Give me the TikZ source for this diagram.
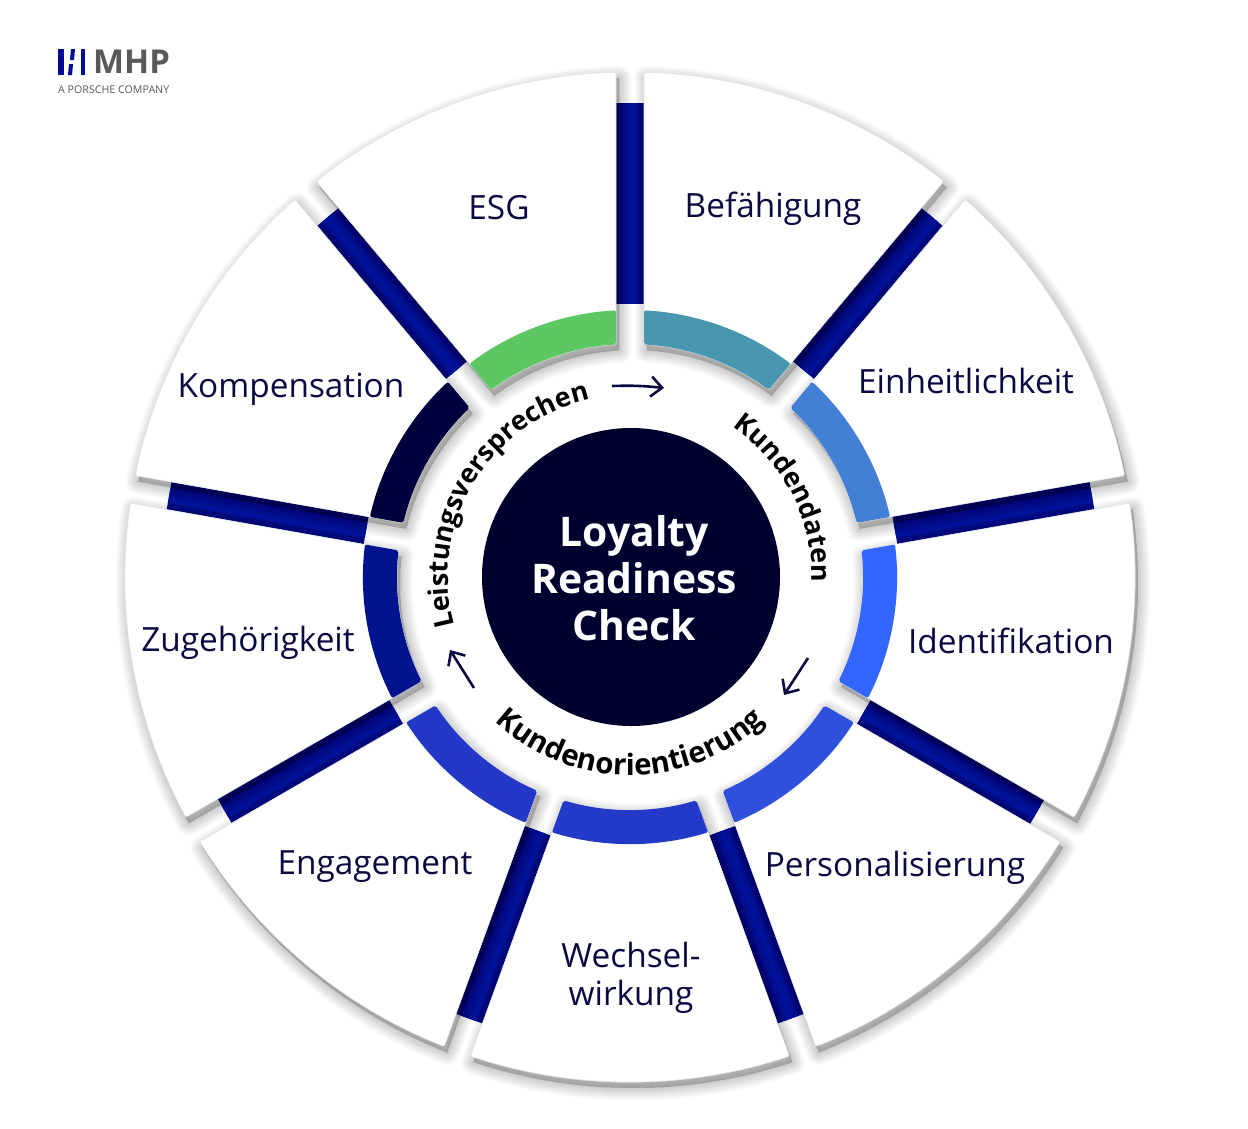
\documentclass[tikz,border=0pt]{standalone}
\usepackage{fontspec}
\setmainfont{Open Sans}
\usetikzlibrary{arrows.meta,decorations.text}
\definecolor{navytext}{HTML}{0A0A40}
\definecolor{hub}{HTML}{00002E}
\definecolor{barcol}{HTML}{000D85}
\definecolor{barmid}{HTML}{00129A}
\definecolor{logogray}{HTML}{58595B}
\definecolor{ringA}{HTML}{4896B0}
\definecolor{ringB}{HTML}{447FD6}
\definecolor{ringC}{HTML}{3366FF}
\definecolor{ringD}{HTML}{2E50DC}
\definecolor{ringE}{HTML}{2339C8}
\definecolor{ringF}{HTML}{2338C6}
\definecolor{ringG}{HTML}{00138F}
\definecolor{ringH}{HTML}{00003C}
\definecolor{ringI}{HTML}{5CC763}
\newcommand{\sectorshape}[1]{({#1-1.589}:505) arc[start angle=#1-1.589,end angle=#1-38.411,radius=505] -- ({#1-36.555}:233) arc[start angle=#1-36.555,end angle=#1-3.445,radius=233] -- cycle}
\newcommand{\ringshape}[1]{({#1-3.006}:267) arc[start angle=#1-3.006,end angle=#1-36.994,radius=267] -- ({#1-36.555}:233) arc[start angle=#1-36.555,end angle=#1-3.445,radius=233] -- cycle}
\newcommand{\curvefont}{\fontsize{27}{27}\selectfont\bfseries}
\newcommand{\curvefontb}{\fontsize{29.5}{29.5}\selectfont\bfseries}
\tikzset{
  x=1bp,y=1bp,
  seglabel/.style={text=navytext,font=\fontsize{33.5}{38}\selectfont,align=center,inner sep=0pt},
  curved/.style={decorate,decoration={text along path,text align=center,text color=black}},
  flowarrow/.style={draw=navytext,line width=2.6pt,-{Straight Barb[length=11bp,width=20bp,line width=2.6pt]}},
  bar/.style={line width=28bp,draw=barcol},
  barcore/.style={line width=15bp,draw=barmid},
  shadowpass/.style={fill=black,draw=black,opacity=.017,line join=round,shift={(3,-6)}},
  logobar/.style={fill=barcol!90!blue,draw=none},
}
\begin{document}
\begin{tikzpicture}
\useasboundingbox (0,0) rectangle (1248,-1129);
\fill[white] (0,0) rectangle (1248,-1129);
\begin{scope}[shift={(630,-577)}]
  % spokes
  \foreach \a/\ri/\ro in {90/273/474,50/270/470,10/269/469,-30/270/470,-70/270/470,-110/270/470,-150/270/468,170/268/468,130/270/470}{
    \coordinate (in\a) at (\a:\ri);
    \coordinate (out\a) at (\a:\ro);
    \draw[bar] (in\a) -- (out\a);
    \draw[barcore] (in\a) -- (out\a);
  }
  % shadows
  \foreach \a in {90,50,10,-30,-70,-110,-150,170,130}{
    \foreach \w in {1,3,5,7,9,11,13,15,17,19,21,23,25}{
      \filldraw[shadowpass,line width=\w bp] \sectorshape{\a};
    }
  }
  % sectors
  \foreach \a in {90,50,10,-30,-70,-110,-150,170,130}{
    \filldraw[fill=white,draw=black!10,line width=.6bp,rounded corners=2bp] \sectorshape{\a};
  }
  % rings
  \foreach \a/\c in {90/ringA,50/ringB,10/ringC,-30/ringD,-70/ringE,-110/ringF,-150/ringG,170/ringH,130/ringI}{
    \fill[\c,rounded corners=2bp] \ringshape{\a};
  }
  % curved labels
  \path[curved,decoration={text={|\curvefont|Kundendaten}}]
    (87:182) arc[start angle=87,end angle=-33,radius=182];
  \path[curved,decoration={text={|\curvefont|Leistungsversprechen}}]
    (219:182) arc[start angle=219,end angle=79,radius=182];
  \path[curved,decoration={text={|\curvefontb|Kundenorientierung}}]
    (200:198) arc[start angle=200,end angle=340,radius=198];
\end{scope}
% hub
\node[circle,fill=hub,minimum size=298bp,inner sep=0pt] (hubnode) at (631,-577) {};
\node[text=white,align=center,inner sep=0pt,font=\fontsize{41}{47}\selectfont\bfseries] (hubtext) at (634,-578) {Loyalty\\Readiness\\Check};
% segment labels
\node[seglabel] (esg)  at (499,-208) {ESG};
\node[seglabel] (bef)  at (773,-209) {Befähigung};
\node[seglabel] (ein)  at (966,-381) {Einheitlichkeit};
\node[seglabel] (ide)  at (1011,-641) {Identifikation};
\node[seglabel] (per)  at (895,-868) {Personalisierung};
\node[seglabel] (wec)  at (631,-978) {Wechsel-\\wirkung};
\node[seglabel] (eng)  at (375,-867) {Engagement};
\node[seglabel] (zug)  at (248,-643) {Zugehörigkeit};
\node[seglabel] (kom)  at (291,-389) {Kompensation};
% flow arrows
\coordinate (f1a) at (612,-386);
\coordinate (f1b) at (664,-388);
\coordinate (f2a) at (808,-658);
\coordinate (f2b) at (784,-695);
\coordinate (f3a) at (474,-688);
\coordinate (f3b) at (450,-650);
\draw[flowarrow] (f1a) to[bend left=4] (f1b);
\draw[flowarrow] (f2a) -- (f2b);
\draw[flowarrow] (f3a) -- (f3b);
% logo
\fill[logobar] (58,-49) rectangle (64,-75);
\fill[logobar] (71,-49) -- (75,-49) -- (74,-60) -- (70,-60) -- cycle;
\fill[logobar] (69,-64) -- (73,-64) -- (72,-75) -- (68,-75) -- cycle;
\fill[logobar] (81,-49) rectangle (85,-75);
\node[anchor=west,inner sep=0pt,text=logogray,font=\fontsize{33}{36}\selectfont\bfseries] (mhp) at (93,-62) {MHP};
\node[anchor=west,inner sep=0pt,text=logogray,font=\fontsize{10.7}{12}\selectfont] (porsche) at (58,-89.5) {A PORSCHE COMPANY};
\end{tikzpicture}
\end{document}
